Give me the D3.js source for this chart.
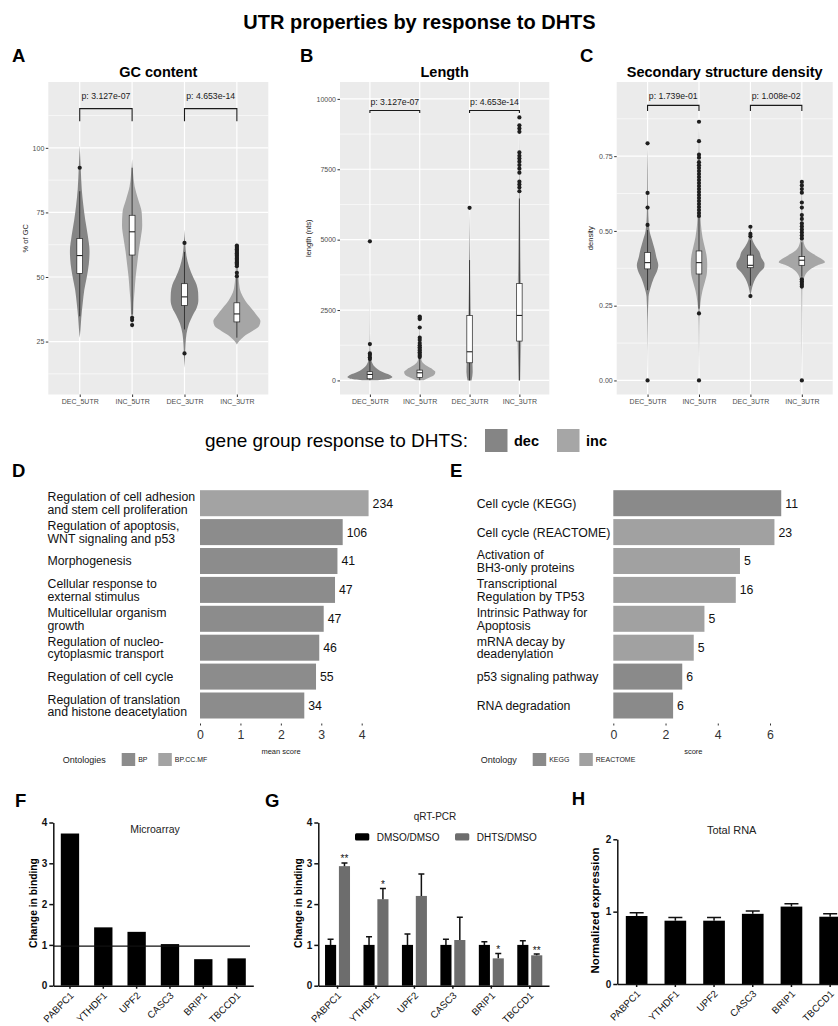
<!DOCTYPE html>
<html>
<head>
<meta charset="utf-8">
<script src="https://cdn.jsdelivr.net/npm/d3@7"></script>
<style>
body { margin: 0; background: #fff; }
svg { display: block; }
</style>
</head>
<body>
<svg id="fig" width="838" height="1026"></svg>
<script>
// ---------- data ----------
var utrGroups = ["DEC_5UTR", "INC_5UTR", "DEC_3UTR", "INC_3UTR"];
var utrResponse = ["dec", "inc", "dec", "inc"];
var responseLevels = ["dec", "inc"];

// GC content: violin profiles [value, relative width], boxes [lo, q1, median, q3, hi], outliers
var gcViolins = [
    [[26.5,0],[30,0.8],[34,1.5],[40,3],[45,4.5],[50,7],[55,9],[60,9.7],[66,8],[72,5.5],[78,3.5],[84,2],[92,1],[101,0]],
    [[29.7,0],[35,1],[40,1.5],[45,2.5],[50,3.5],[55,5],[60,6.5],[65,8.5],[70,10],[75,9.5],[80,6],[85,2.5],[90,1],[95.7,0]],
    [[14.8,0],[19,0.5],[24,1],[28,2],[32,4.5],[35,8],[38,12],[41,13.7],[44,13.5],[47,12],[50,8.5],[54,4.5],[58,2],[63,0.7],[68.4,0]],
    [[23.9,0],[25.5,3],[27,7],[29,15],[31,22],[33,23.3],[35,20],[38,14],[41,8],[44,4],[48,2],[52,1.3],[58,0.7],[63.9,0]]
];
var gcBoxes = [
    [34.8, 51.4, 58.3, 64.9, 83.2],
    [35.5, 58.5, 67.5, 73.9, 92.3],
    [29.7, 39.0, 42.3, 47.4, 59.7],
    [26.5, 32.6, 35.7, 40.0, 49.7]
];
var gcOutliers = [
    [92.3],
    [34.2, 33.3, 31.4],
    [63.2, 20.4],
    [62.2, 61.7, 61.2, 60.7, 60.2, 59.7, 59.2, 58.7, 58.2, 57.7, 57.2, 56.7, 56.2, 55.7, 55.2, 54.7, 54.2, 51.6, 50.3]
];
var gcTicks = [25, 50, 75, 100];
var gcPvalues = ["p: 3.127e-07", "p: 4.653e-14"];

// UTR length (nts)
var lenViolins = [
    [[10,8],[60,20],[120,23],[200,20],[300,13],[400,8],[500,4.5],[650,2],[800,1],[1000,0.5],[1300,0.25],[2000,0.1],[4940,0]],
    [[10,4],[100,10],[200,15],[300,16],[400,13],[500,8],[600,4],[700,2],[900,1],[1500,0.4],[2270,0]],
    [[0,2],[300,3.2],[600,3],[1000,2.4],[1500,1.8],[2000,1.3],[2500,1],[3000,0.8],[3500,0.6],[4300,0.4],[5000,0.25],[6130,0]],
    [[0,0.8],[500,1.2],[1000,1.6],[1500,2],[2000,2.2],[2500,2.2],[3000,2],[3500,1.6],[4000,1.3],[5000,0.9],[6000,0.6],[7000,0.35],[8000,0.2],[9340,0]]
];
var lenBoxes = [
    [10, 59, 213, 308, 722],
    [10, 107, 272, 367, 781],
    [0, 627, 1018, 2308, 4275],
    [0, 1397, 2308, 3444, 6463]
];
var lenOutliers = [
    [4940, 1290, 960, 900, 820, 760],
    [2270, 2220, 2180, 1880, 1520, 1440, 1330, 1250, 1180, 1120, 1060, 1000, 940, 880, 830],
    [6130],
    [9340, 9060, 8950, 8830, 8100, 7980, 7880, 7770, 7650, 7520, 7380, 7060, 6960, 6850, 6720]
];
var lenTicks = [0, 2500, 5000, 7500, 10000];
var lenPvalues = ["p: 3.127e-07", "p: 4.653e-14"];

// secondary structure density
var ssdViolins = [
    [[0,0],[0.2,0.3],[0.28,1],[0.31,3],[0.34,6],[0.37,10],[0.385,10.8],[0.41,9],[0.44,7],[0.47,4.5],[0.5,2],[0.55,0.8],[0.62,0.4],[0.7,0.3],[0.793,0]],
    [[0,0],[0.15,0.3],[0.22,0.6],[0.26,1.5],[0.3,3.5],[0.33,6],[0.36,8],[0.39,8.3],[0.42,7.5],[0.45,5.5],[0.48,3.5],[0.52,2],[0.56,1.3],[0.62,0.9],[0.7,0.6],[0.8,0.3],[0.865,0]],
    [[0.282,0],[0.3,1],[0.32,2.5],[0.34,5],[0.36,9],[0.38,14],[0.39,14.2],[0.41,11],[0.43,9],[0.45,5],[0.47,2],[0.49,1],[0.514,0]],
    [[0,0],[0.15,0.2],[0.3,0.5],[0.33,1.5],[0.35,3],[0.37,8],[0.385,16],[0.395,23.3],[0.41,18],[0.43,8],[0.45,3],[0.48,1.2],[0.55,0.6],[0.62,0.3],[0.664,0]]
];
var ssdBoxes = [
    [0.302, 0.373, 0.394, 0.428, 0.503],
    [0.240, 0.356, 0.394, 0.433, 0.547],
    [0.317, 0.377, 0.385, 0.419, 0.469],
    [0.347, 0.385, 0.402, 0.414, 0.462]
];
var ssdOutliers = [
    [0.793, 0.627, 0.578, 0.52, 0],
    [0.865, 0.80, 0.755, 0.745, 0.73, 0.72, 0.71, 0.70, 0.69, 0.68, 0.67, 0.66, 0.65, 0.64, 0.63, 0.62, 0.61, 0.60, 0.59, 0.58, 0.57, 0.56, 0.55, 0.224, 0],
    [0.514, 0.49, 0.482, 0.282],
    [0.664, 0.652, 0.64, 0.628, 0.595, 0.578, 0.553, 0.54, 0.525, 0.515, 0.505, 0.495, 0.485, 0.475, 0.338, 0.332, 0.326, 0.32, 0.314, 0]
];
var ssdTicks = [0, 0.25, 0.5, 0.75];
var ssdPvalues = ["p: 1.739e-01", "p: 1.008e-02"];

// GO enrichment (D)
var goTerms = [
    ["Regulation of cell adhesion", "and stem cell proliferation"],
    ["Regulation of apoptosis,", "WNT signaling and p53"],
    ["Morphogenesis"],
    ["Cellular response to", "external stimulus"],
    ["Multicellular organism", "growth"],
    ["Regulation of nucleo-", "cytoplasmic transport"],
    ["Regulation of cell cycle"],
    ["Regulation of translation", "and histone deacetylation"]
];
var goScores = [4.17, 3.53, 3.40, 3.34, 3.06, 2.95, 2.87, 2.58];
var goCounts = [234, 106, 41, 47, 47, 46, 55, 34];
var goOntology = ["BP.CC.MF", "BP", "BP", "BP", "BP", "BP", "BP", "BP"];
var goLevels = ["BP", "BP.CC.MF"];
var goTicks = [0, 1, 2, 3, 4];

// pathway enrichment (E)
var pathTerms = [
    ["Cell cycle (KEGG)"],
    ["Cell cycle (REACTOME)"],
    ["Activation of", "BH3-only proteins"],
    ["Transcriptional", "Regulation by TP53"],
    ["Intrinsic Pathway for", "Apoptosis"],
    ["mRNA decay by", "deadenylation"],
    ["p53 signaling pathway"],
    ["RNA degradation"]
];
var pathScores = [6.43, 6.17, 4.85, 4.69, 3.49, 3.08, 2.64, 2.29];
var pathCounts = [11, 23, 5, 16, 5, 5, 6, 6];
var pathOntology = ["KEGG", "REACTOME", "REACTOME", "REACTOME", "REACTOME", "REACTOME", "KEGG", "KEGG"];
var pathLevels = ["KEGG", "REACTOME"];
var pathTicks = [0, 2, 4, 6];

// F, G, H
var genes = ["PABPC1", "YTHDF1", "UPF2", "CASC3", "BRIP1", "TBCCD1"];
var microarray = [3.73, 1.43, 1.32, 1.02, 0.65, 0.67];
var qpcrSeries = ["DMSO/DMSO", "DHTS/DMSO"];
var qpcrDmso = [1, 1, 1, 1, 1, 1];
var qpcrDmsoErr = [0.14, 0.20, 0.27, 0.14, 0.08, 0.10];
var qpcrDhts = [2.93, 2.12, 2.20, 1.12, 0.67, 0.745];
var qpcrDhtsErr = [0.08, 0.26, 0.54, 0.56, 0.12, 0.03];
var qpcrStars = ["**", "*", "", "", "*", "**"];
var totalRna = [0.94, 0.875, 0.875, 0.97, 1.07, 0.93];
var totalRnaErr = [0.045, 0.045, 0.045, 0.04, 0.04, 0.04];

// ---------- drawing ----------
var FONT = '"Liberation Sans", Arial, Helvetica, sans-serif';
var svg = d3.select("#fig").style("font-family", FONT);
svg.append("rect").attr("width", 838).attr("height", 1026).attr("fill", "#fff");

var responseColor = d3.scaleOrdinal().domain(responseLevels).range(["#858585", "#a6a6a6"]);

function panelLetter(t, x, y) {
    svg.append("text").attr("x", x).attr("y", y).text(t)
        .style("font-size", "18.5px").style("font-weight", "bold");
}

svg.append("text").attr("x", 419.5).attr("y", 29).attr("text-anchor", "middle")
    .style("font-size", "20px").style("font-weight", "bold")
    .text("UTR properties by response to DHTS");

function violinPanel(p) {
    var g = svg.append("g");
    var x = d3.scalePoint().domain(utrGroups).range([p.x0, p.x1]).padding(0.6);
    var y = d3.scaleLinear().domain(p.domain).range([p.y1, p.y0]);
    var step = x.step();

    g.append("rect").attr("x", p.x0).attr("y", p.y0)
        .attr("width", p.x1 - p.x0).attr("height", p.y1 - p.y0)
        .attr("fill", "#ebebeb");

    g.selectAll(".minor").data(p.minor).enter().append("line")
        .attr("x1", p.x0).attr("x2", p.x1)
        .attr("y1", function (d) { return y(d); }).attr("y2", function (d) { return y(d); })
        .attr("stroke", "#fff").attr("stroke-width", 0.6);
    g.selectAll(".major").data(p.ticks).enter().append("line")
        .attr("x1", p.x0).attr("x2", p.x1)
        .attr("y1", function (d) { return y(d); }).attr("y2", function (d) { return y(d); })
        .attr("stroke", "#fff").attr("stroke-width", 1.2);
    g.selectAll(".vgrid").data(utrGroups).enter().append("line")
        .attr("x1", function (d) { return x(d); }).attr("x2", function (d) { return x(d); })
        .attr("y1", p.y0).attr("y2", p.y1)
        .attr("stroke", "#fff").attr("stroke-width", 1.2);

    var maxW = d3.max(p.violins, function (v) { return d3.max(v, function (d) { return d[1]; }); });
    var w = d3.scaleLinear().domain([0, maxW]).range([0, 0.45 * step]);
    var bw = 0.11 * step;

    utrGroups.forEach(function (grp, i) {
        var cx = x(grp);
        var area = d3.area()
            .curve(d3.curveMonotoneY)
            .y(function (d) { return y(d[0]); })
            .x0(function (d) { return cx - w(d[1]); })
            .x1(function (d) { return cx + w(d[1]); });
        g.append("path").datum(p.violins[i]).attr("d", area)
            .attr("fill", responseColor(utrResponse[i]));

        var b = p.boxes[i];
        g.append("line").attr("x1", cx).attr("x2", cx)
            .attr("y1", y(b[0])).attr("y2", y(b[4]))
            .attr("stroke", "#222").attr("stroke-width", 0.8);
        g.append("rect").attr("x", cx - bw / 2).attr("width", bw)
            .attr("y", y(b[3])).attr("height", y(b[1]) - y(b[3]))
            .attr("fill", "#fff").attr("stroke", "#222").attr("stroke-width", 0.7);
        g.append("line").attr("x1", cx - bw / 2).attr("x2", cx + bw / 2)
            .attr("y1", y(b[2])).attr("y2", y(b[2]))
            .attr("stroke", "#222").attr("stroke-width", 1.1);
        g.selectAll(".out" + i).data(p.outliers[i]).enter().append("circle")
            .attr("cx", cx).attr("cy", function (d) { return y(d); })
            .attr("r", 2.1).attr("fill", "#1e1e1e");
    });

    // significance brackets
    [[0, 1], [2, 3]].forEach(function (pair, k) {
        var xa = x(utrGroups[pair[0]]), xb = x(utrGroups[pair[1]]);
        g.append("path")
            .attr("d", "M" + xa + "," + y(p.bracket[0]) + "V" + y(p.bracket[1]) +
                "H" + xb + "V" + y(p.bracket[0]))
            .attr("fill", "none").attr("stroke", "#1a1a1a").attr("stroke-width", 1.1);
        g.append("text").attr("x", (xa + xb) / 2).attr("y", y(p.bracket[2]))
            .attr("text-anchor", "middle").style("font-size", "8.7px").attr("fill", "#1a1a1a")
            .text(p.pvalues[k]);
    });

    var ya = g.append("g").attr("transform", "translate(" + p.x0 + ",0)")
        .call(d3.axisLeft(y).tickValues(p.ticks).tickSize(2.5).tickPadding(1.5).tickFormat(p.fmt));
    ya.select(".domain").remove();
    ya.attr("font-family", FONT).attr("font-size", 7);
    ya.selectAll("line").attr("stroke", "#333");
    ya.selectAll("text").attr("fill", "#4d4d4d");

    var xa = g.append("g").attr("transform", "translate(0," + p.y1 + ")")
        .call(d3.axisBottom(x).tickSize(2.5).tickPadding(2.5));
    xa.select(".domain").remove();
    xa.attr("font-family", FONT).attr("font-size", 7);
    xa.selectAll("line").attr("stroke", "#333");
    xa.selectAll("text").attr("fill", "#4d4d4d");

    g.append("text").attr("x", (p.x0 + p.x1) / 2).attr("y", 76.5)
        .attr("text-anchor", "middle").style("font-size", "14.5px").style("font-weight", "bold")
        .text(p.title);
    g.append("text").attr("transform", "translate(" + p.ylabX + "," + ((p.y0 + p.y1) / 2) + ") rotate(-90)")
        .attr("text-anchor", "middle").attr("dy", "0.35em").style("font-size", "7.5px").attr("fill", "#222")
        .text(p.ylab);
}

violinPanel({
    x0: 48.3, x1: 268.3, y0: 82, y1: 394.5, domain: [4.5, 125.5],
    ticks: gcTicks, minor: [12.5, 37.5, 62.5, 87.5, 112.5], fmt: d3.format("d"),
    violins: gcViolins, boxes: gcBoxes, outliers: gcOutliers, pvalues: gcPvalues,
    bracket: [110.3, 115.2, 118.8], title: "GC content", ylab: "% of GC", ylabX: 25
});
violinPanel({
    x0: 340, x1: 549.3, y0: 82, y1: 394.5, domain: [-500, 10600],
    ticks: lenTicks, minor: [1250, 3750, 6250, 8750], fmt: d3.format("d"),
    violins: lenViolins, boxes: lenBoxes, outliers: lenOutliers, pvalues: lenPvalues,
    bracket: [9500, 9590, 9770], title: "Length", ylab: "length (nts)", ylabX: 308
});
violinPanel({
    x0: 616.7, x1: 832.7, y0: 82, y1: 394.5, domain: [-0.047, 0.998],
    ticks: ssdTicks, minor: [0.125, 0.375, 0.625, 0.875], fmt: d3.format(".2f"),
    violins: ssdViolins, boxes: ssdBoxes, outliers: ssdOutliers, pvalues: ssdPvalues,
    bracket: [0.901, 0.92, 0.94], title: "Secondary structure density", ylab: "density", ylabX: 590
});
panelLetter("A", 12, 61.7);
panelLetter("B", 300, 61.7);
panelLetter("C", 580, 61.7);

// shared legend for A-C
var lg = svg.append("g");
lg.append("text").attr("x", 468).attr("y", 446.5).attr("text-anchor", "end")
    .style("font-size", "19px").text("gene group response to DHTS:");
var legX = d3.scalePoint().domain(responseLevels).range([485, 557]);
responseLevels.forEach(function (r) {
    lg.append("rect").attr("x", legX(r)).attr("y", 429).attr("width", 22.5).attr("height", 23)
        .attr("fill", responseColor(r));
    lg.append("text").attr("x", legX(r) + 29).attr("y", 445.5)
        .style("font-size", "14.5px").style("font-weight", "bold").text(r);
});

// ---------- D / E ----------
function enrichPanel(p) {
    var g = svg.append("g");
    var y = d3.scaleBand().domain(d3.range(p.scores.length))
        .range([488.75, 719.95]).paddingInner(0.1).paddingOuter(0.05);
    var x = d3.scaleLinear().domain([0, p.max]).range([p.x0, p.x1]);
    var color = d3.scaleOrdinal().domain(p.levels).range(p.colors);

    g.selectAll(".bar").data(p.scores).enter().append("rect")
        .attr("x", x(0)).attr("y", function (d, i) { return y(i); })
        .attr("width", function (d) { return x(d) - x(0); })
        .attr("height", y.bandwidth())
        .attr("fill", function (d, i) { return color(p.ontology[i]); });

    g.selectAll(".val").data(p.scores).enter().append("text")
        .attr("x", function (d) { return x(d) + 4; })
        .attr("y", function (d, i) { return y(i) + y.bandwidth() / 2; })
        .attr("dy", "0.36em").style("font-size", "12.3px").attr("fill", "#111")
        .text(function (d, i) { return p.counts[i]; });

    p.terms.forEach(function (lines, i) {
        var cy = y(i) + y.bandwidth() / 2;
        var t = g.append("text").style("font-size", "12.3px").attr("fill", "#111");
        lines.forEach(function (line, j) {
            t.append("tspan").attr("x", p.labelX)
                .attr("y", cy + (j - (lines.length - 1) / 2) * 12.7)
                .attr("dy", "0.36em").text(line);
        });
    });

    var xa = g.append("g").attr("transform", "translate(0,723.5)")
        .call(d3.axisBottom(x).tickValues(p.ticks).tickSize(2).tickPadding(4.5).tickFormat(d3.format("d")));
    xa.select(".domain").remove();
    xa.attr("font-family", FONT).attr("font-size", 12.3);
    xa.selectAll("line").attr("stroke", "#333");
    xa.selectAll("text").attr("fill", "#333");

    g.append("text").attr("x", p.titleX).attr("y", 753.5).attr("text-anchor", "middle")
        .style("font-size", "7.5px").attr("fill", "#222").text(p.xlab);

    g.append("text").attr("x", p.legX).attr("y", 762.5)
        .style("font-size", "9px").attr("fill", "#222").text(p.legTitle);
    p.levels.forEach(function (lv, k) {
        g.append("rect").attr("x", p.legKeys[k]).attr("y", 753).attr("width", 13.5).attr("height", 13)
            .attr("fill", color(lv));
        g.append("text").attr("x", p.legKeys[k] + 16.5).attr("y", 762)
            .style("font-size", "7px").attr("fill", "#222").text(lv);
    });
}

enrichPanel({
    scores: goScores, counts: goCounts, terms: goTerms, ontology: goOntology,
    levels: goLevels, colors: ["#8c8c8c", "#a3a3a3"], ticks: goTicks, max: 4,
    x0: 200, x1: 361.7, labelX: 47.5, titleX: 281, xlab: "mean score",
    legX: 62.7, legTitle: "Ontologies", legKeys: [121.7, 158.3]
});
enrichPanel({
    scores: pathScores, counts: pathCounts, terms: pathTerms, ontology: pathOntology,
    levels: pathLevels, colors: ["#8a8a8a", "#a1a1a1"], ticks: pathTicks, max: 6,
    x0: 613.3, x1: 770, labelX: 476.7, titleX: 693.3, xlab: "score",
    legX: 480.7, legTitle: "Ontology", legKeys: [532.7, 579.3]
});
panelLetter("D", 12, 476.5);
panelLetter("E", 450, 476.7);

// ---------- F / G / H ----------
function gpAxes(g, x, y, x0, yBase, ticks) {
    var ya = g.append("g").attr("transform", "translate(" + x0 + ",0)")
        .call(d3.axisLeft(y).tickValues(ticks).tickSize(4).tickSizeOuter(0).tickPadding(2).tickFormat(d3.format("d")));
    ya.attr("font-family", FONT).attr("font-size", 10).attr("font-weight", "bold");
    ya.selectAll("line, path").attr("stroke", "#111").attr("stroke-width", 1.5);
    ya.selectAll("text").attr("fill", "#111");

    var xa = g.append("g").attr("transform", "translate(0," + yBase + ")")
        .call(d3.axisBottom(x).tickSize(3).tickSizeOuter(0));
    xa.attr("font-family", FONT).attr("font-size", 9.8);
    xa.selectAll("line, path").attr("stroke", "#111").attr("stroke-width", 1.5);
    xa.selectAll("text").attr("fill", "#111")
        .attr("x", 0).attr("y", 0).attr("dy", "0.35em")
        .attr("text-anchor", "end")
        .attr("transform", "translate(2,8) rotate(-45)");
}

function errorBars(g, cxs, vals, errs, y, cap) {
    vals.forEach(function (v, i) {
        var top = y(v + errs[i]);
        g.append("path")
            .attr("d", "M" + cxs[i] + "," + y(v) + "V" + top + "M" + (cxs[i] - cap / 2) + "," + top + "H" + (cxs[i] + cap / 2))
            .attr("fill", "none").attr("stroke", "#111").attr("stroke-width", 1.5);
    });
}

// F: microarray
(function () {
    var g = svg.append("g");
    var x = d3.scaleBand().domain(genes).range([53.3, 253.3]).paddingInner(0.45).paddingOuter(0.225);
    var y = d3.scaleLinear().domain([0, 4]).range([985.7, 822.5]);
    g.selectAll(".bar").data(microarray).enter().append("rect")
        .attr("x", function (d, i) { return x(genes[i]); })
        .attr("y", function (d) { return y(d); })
        .attr("width", x.bandwidth())
        .attr("height", function (d) { return y(0) - y(d); })
        .attr("fill", "#000");
    g.append("line").attr("x1", 53.3).attr("x2", 250).attr("y1", y(0.97)).attr("y2", y(0.97))
        .attr("stroke", "#111").attr("stroke-width", 1.2);
    gpAxes(g, x, y, 53.3, 985.7, [0, 1, 2, 3, 4]);
    g.append("text").attr("x", 155).attr("y", 832.5).attr("text-anchor", "middle")
        .style("font-size", "10.5px").attr("fill", "#222").text("Microarray");
    g.append("text").attr("transform", "translate(33.3,903) rotate(-90)")
        .attr("text-anchor", "middle").attr("dy", "0.35em")
        .style("font-size", "10.3px").style("font-weight", "bold").text("Change in binding");
})();
panelLetter("F", 15, 806.7);

// G: qRT-PCR
(function () {
    var g = svg.append("g");
    var x0 = d3.scaleBand().domain(genes).range([318.3, 549]).paddingInner(0.35).paddingOuter(0.175);
    var x1 = d3.scaleBand().domain(qpcrSeries).range([0, x0.bandwidth()]).paddingInner(0.2);
    var y = d3.scaleLinear().domain([0, 4]).range([985.7, 822.5]);
    var color = d3.scaleOrdinal().domain(qpcrSeries).range(["#000", "#6d6d6d"]);
    var seriesVals = [qpcrDmso, qpcrDhts];
    var seriesErrs = [qpcrDmsoErr, qpcrDhtsErr];

    qpcrSeries.forEach(function (s, k) {
        var cxs = genes.map(function (gn) { return x0(gn) + x1(s) + x1.bandwidth() / 2; });
        g.selectAll(".bar" + k).data(seriesVals[k]).enter().append("rect")
            .attr("x", function (d, i) { return x0(genes[i]) + x1(s); })
            .attr("y", function (d) { return y(d); })
            .attr("width", x1.bandwidth())
            .attr("height", function (d) { return y(0) - y(d); })
            .attr("fill", color(s));
        errorBars(g, cxs, seriesVals[k], seriesErrs[k], y, 6);
        if (k === 1) {
            g.selectAll(".star").data(qpcrStars).enter().append("text")
                .attr("x", function (d, i) { return cxs[i]; })
                .attr("y", function (d, i) { return y(qpcrDhts[i] + qpcrDhtsErr[i]) - 0.5; })
                .attr("text-anchor", "middle").style("font-size", "10px").attr("fill", "#111")
                .text(function (d) { return d; });
        }
    });
    gpAxes(g, x0, y, 318.3, 985.7, [0, 1, 2, 3, 4]);

    g.append("text").attr("x", 435).attr("y", 820.3).attr("text-anchor", "middle")
        .style("font-size", "10px").attr("fill", "#222").text("qRT-PCR");
    var lx = d3.scalePoint().domain(qpcrSeries).range([355, 455]);
    qpcrSeries.forEach(function (s) {
        g.append("rect").attr("x", lx(s)).attr("y", 833.3).attr("width", 14.3).attr("height", 7.3)
            .attr("rx", 1.5).attr("fill", color(s));
        g.append("text").attr("x", lx(s) + 21.7).attr("y", 840.5)
            .style("font-size", "10px").attr("fill", "#111").text(s);
    });
    g.append("text").attr("transform", "translate(298.3,903) rotate(-90)")
        .attr("text-anchor", "middle").attr("dy", "0.35em")
        .style("font-size", "10.3px").style("font-weight", "bold").text("Change in binding");
})();
panelLetter("G", 265, 806.7);

// H: total RNA
(function () {
    var g = svg.append("g");
    var x = d3.scaleBand().domain(genes).range([617.3, 849.5]).paddingInner(0.44).paddingOuter(0.22);
    var y = d3.scaleLinear().domain([0, 2]).range([984, 839.3]);
    g.selectAll(".bar").data(totalRna).enter().append("rect")
        .attr("x", function (d, i) { return x(genes[i]); })
        .attr("y", function (d) { return y(d); })
        .attr("width", x.bandwidth())
        .attr("height", function (d) { return y(0) - y(d); })
        .attr("fill", "#000");
    var cxs = genes.map(function (gn) { return x(gn) + x.bandwidth() / 2; });
    errorBars(g, cxs, totalRna, totalRnaErr, y, 14);
    gpAxes(g, x, y, 617.3, 984, [0, 1, 2]);
    g.append("text").attr("x", 731.7).attr("y", 834).attr("text-anchor", "middle")
        .style("font-size", "11px").attr("fill", "#222").text("Total RNA");
    g.append("text").attr("transform", "translate(595,910.5) rotate(-90)")
        .attr("text-anchor", "middle").attr("dy", "0.35em")
        .style("font-size", "11.5px").style("font-weight", "bold").text("Normalized expression");
})();
panelLetter("H", 571.7, 805);
</script>
</body>
</html>
